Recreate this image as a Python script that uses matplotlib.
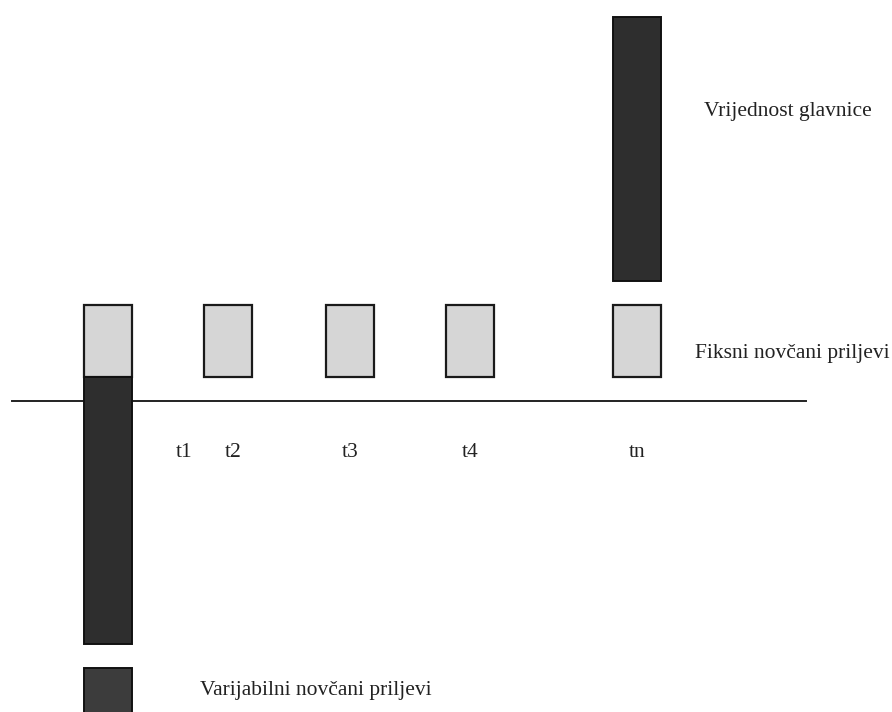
import matplotlib
matplotlib.use("Agg")
import matplotlib.pyplot as plt

# ---- data ----
periods = ["t1", "t2", "t3", "t4", "tn"]
period_x = [108, 227.5, 349.5, 470, 637]          # horizontal placement of the periods
label_x = [184, 233, 350, 470, 637]               # where the period labels sit
fixed_flows = [1.0, 1.0, 1.0, 1.0, 1.0]           # fixed cash inflows (light boxes)
principal_value = 3.67                            # principal repaid at tn
principal_bottom = 1.33
variable_flow = -3.7                              # variable cash flow at t1
axis_level = -0.33

legend_labels = ["Vrijednost glavnice", "Fiksni novčani priljevi", "Varijabilni novčani priljevi"]

light = "#d6d6d6"
dark = "#2e2e2e"
bar_w = 48

fig = plt.figure(figsize=(8.92, 7.12), dpi=100)
ax = fig.add_axes([0, 0, 1, 1])
ax.set_xlim(0, 892)
ax.set_ylim(-4.65, 5.236)
ax.axis("off")

font = {"family": "Liberation Serif", "size": 15.5, "color": "#222222"}

# axis line
ax.plot([12, 806], [axis_level, axis_level], color="#222222", lw=1.4, zorder=1)

# fixed flows
ax.bar(period_x, fixed_flows, width=bar_w, bottom=0, color=light,
       edgecolor="#1a1a1a", linewidth=1.6, zorder=3)

# principal at tn
ax.bar([period_x[-1]], [principal_value], width=bar_w, bottom=principal_bottom,
       color=dark, edgecolor="#111111", linewidth=1.4, zorder=3)

# variable flow at t1
ax.bar([period_x[0]], [variable_flow], width=bar_w, bottom=0,
       color=dark, edgecolor="#111111", linewidth=1.4, zorder=3)

# legend square for variable flows
ax.bar([period_x[0]], [-1.0], width=bar_w, bottom=-4.04,
       color="#3c3c3c", edgecolor="#111111", linewidth=1.4, zorder=3)

# period labels
for lx, lab in zip(label_x, periods):
    ax.text(lx, -1.04, lab, ha="center", va="center", **font)

# descriptive labels
ax.text(704, 3.69, legend_labels[0], ha="left", va="center", **font)
ax.text(695, 0.33, legend_labels[1], ha="left", va="center", **font)
ax.text(200, -4.35, legend_labels[2], ha="left", va="center", **font)

fig.savefig("out.png", dpi=100)
